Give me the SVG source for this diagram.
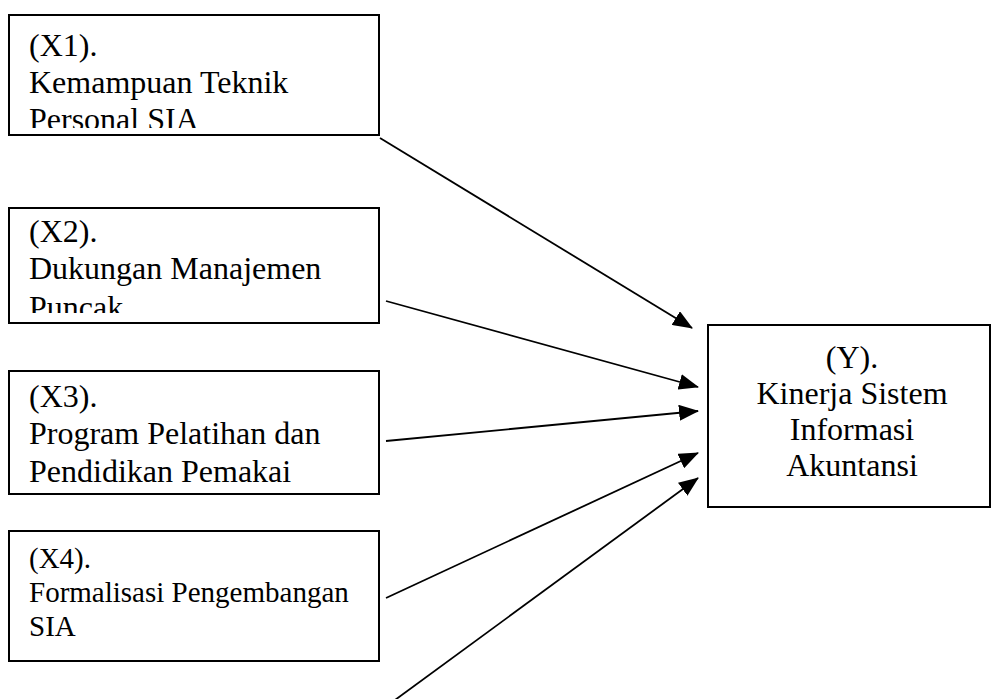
<svg xmlns="http://www.w3.org/2000/svg" width="992" height="699" viewBox="0 0 992 699">
<style>
.box{fill:#fff;stroke:#000;stroke-width:2}
.t{font-family:"Liberation Serif","Times New Roman",serif;font-size:32px;fill:#000}
.t4{font-family:"Liberation Serif","Times New Roman",serif;font-size:29px;fill:#000}
.c{text-anchor:middle}
.conn line{stroke:#000;stroke-width:1.8;marker-end:url(#ah)}
</style>
<defs>
<marker id="ah" markerWidth="20" markerHeight="16" refX="19" refY="8" orient="auto" markerUnits="userSpaceOnUse">
<path d="M0,0 L20,8 L0,16 Z" fill="#000"/>
</marker>
<clipPath id="c1"><rect x="9" y="15" width="370" height="113"/></clipPath>
<clipPath id="c2"><rect x="9" y="208" width="370" height="105"/></clipPath>
</defs>
<rect width="992" height="699" fill="#fff"/>
<g id="x1">
<rect class="box" x="9" y="15" width="370" height="120"/>
<g clip-path="url(#c1)">
<text class="t" x="29" y="56">(X1).</text>
<text class="t" x="29" y="93">Kemampuan Teknik</text>
<text class="t" x="29" y="130">Personal SIA</text>
</g>
</g>
<g id="x2">
<rect class="box" x="9" y="208" width="370" height="115"/>
<g clip-path="url(#c2)">
<text class="t" x="29" y="242">(X2).</text>
<text class="t" x="29" y="279">Dukungan Manajemen</text>
<text class="t" x="29" y="318">Puncak</text>
</g>
</g>
<g id="x3">
<rect class="box" x="9" y="371" width="370" height="123"/>
<text class="t" x="29" y="407">(X3).</text>
<text class="t" x="29" y="444">Program Pelatihan dan</text>
<text class="t" x="29" y="482">Pendidikan Pemakai</text>
</g>
<g id="x4">
<rect class="box" x="9" y="531" width="370" height="130"/>
<text class="t4" x="29" y="568">(X4).</text>
<text class="t4" x="29" y="602">Formalisasi Pengembangan</text>
<text class="t4" x="29" y="636">SIA</text>
</g>
<g id="y">
<rect class="box" x="708" y="325" width="282" height="182"/>
<text class="t c" x="852" y="368">(Y).</text>
<text class="t c" x="852" y="404">Kinerja Sistem</text>
<text class="t c" x="852" y="440">Informasi</text>
<text class="t c" x="852" y="476">Akuntansi</text>
</g>
<g id="connectors" class="conn">
<line x1="380" y1="138" x2="692" y2="328"/>
<line x1="386" y1="301" x2="698" y2="387"/>
<line x1="386" y1="441" x2="698" y2="411"/>
<line x1="386" y1="598" x2="698" y2="453"/>
<line x1="395" y1="700" x2="698" y2="478"/>
</g>
</svg>
